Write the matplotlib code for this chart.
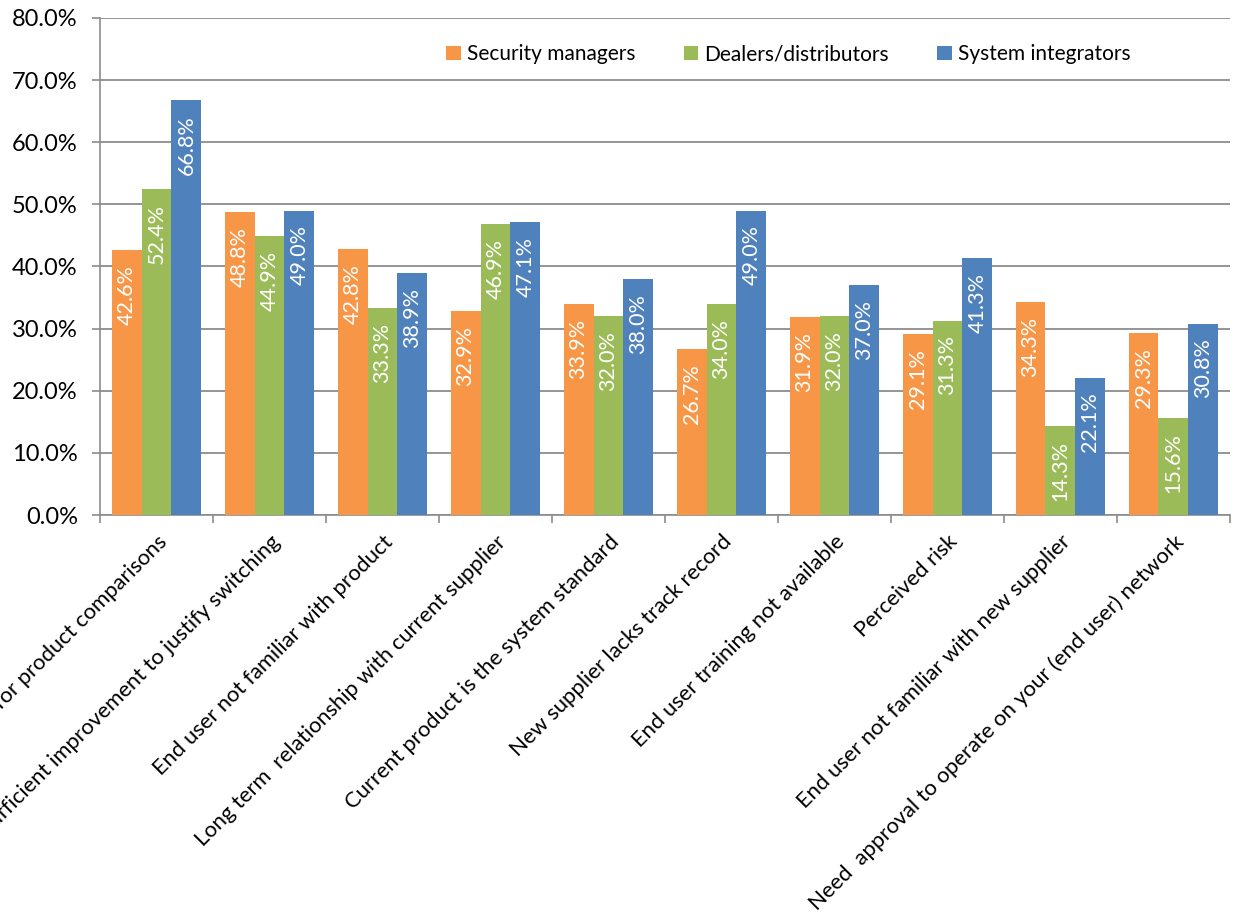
import matplotlib
matplotlib.use("Agg")
import matplotlib.pyplot as plt
import numpy as np
from matplotlib.ticker import PercentFormatter, FixedLocator

categories = [
    "Need for product comparisons",
    "Insufficient improvement to justify switching",
    "End user not familiar with product",
    "Long term  relationship with current supplier",
    "Current product is the system standard",
    "New supplier lacks track record",
    "End user training not available",
    "Perceived risk",
    "End user not familiar with new supplier",
    "Need  approval to operate on your (end user) network",
]
security_managers = [42.6, 48.8, 42.8, 32.9, 33.9, 26.7, 31.9, 29.1, 34.3, 29.3]
dealers_distributors = [52.4, 44.9, 33.3, 46.9, 32.0, 34.0, 32.0, 31.3, 14.3, 15.6]
system_integrators = [66.8, 49.0, 38.9, 47.1, 38.0, 49.0, 37.0, 41.3, 22.1, 30.8]
series_names = ["Security managers", "Dealers/distributors", "System integrators"]
colors = ["#F79646", "#9BBB59", "#4F81BD"]

plt.rcParams['font.family'] = ['Lato', 'DejaVu Sans']

fig = plt.figure(figsize=(12.38, 9.21), dpi=100)
ax = fig.add_axes([0.0808, 0.4408, 0.9127, 0.5397])

x = np.arange(len(categories))
w = 0.265
all_series = [security_managers, dealers_distributors, system_integrators]
for i, (vals, name, c) in enumerate(zip(all_series, series_names, colors)):
    pos = x + (i - 1) * w
    bars = ax.bar(pos, vals, width=w, color=c, label=name, zorder=3)
    for b, v in zip(bars, vals):
        ax.text(b.get_x() + b.get_width() / 2, v - 2.4, f"{v:.1f}%",
                rotation=90, ha='center', va='top', color='white',
                fontsize=15.5, zorder=4)

ax.set_xlim(-0.5, len(categories) - 0.5)
ax.set_ylim(0, 80)
ax.set_yticks(np.arange(0, 81, 10))
ax.yaxis.set_major_formatter(PercentFormatter(decimals=1))
ax.grid(axis='y', color='#8C8C8C', linewidth=1.3, zorder=0)
ax.tick_params(axis='y', labelsize=17, length=6, color='#8C8C8C', width=1.2, pad=10)

ax.set_xticks(x)
ax.set_xticklabels(categories, rotation=45, ha='right', rotation_mode='anchor', fontsize=15.8)
ax.tick_params(axis='x', which='major', length=0, pad=12)
ax.xaxis.set_minor_locator(FixedLocator(np.arange(-0.5, len(categories), 1)))
ax.tick_params(axis='x', which='minor', length=6, color='#8C8C8C', width=1.2)

for s in ['top', 'right']:
    ax.spines[s].set_visible(False)
for s in ['left', 'bottom']:
    ax.spines[s].set_color('#8C8C8C')
    ax.spines[s].set_linewidth(1.2)

ax.legend(loc='upper left', bbox_to_anchor=(0.29, 0.985), ncol=3, frameon=False,
          fontsize=15, handlelength=0.7, handleheight=0.7, columnspacing=2.3,
          handletextpad=0.3)

fig.savefig("out.png", dpi=100)
